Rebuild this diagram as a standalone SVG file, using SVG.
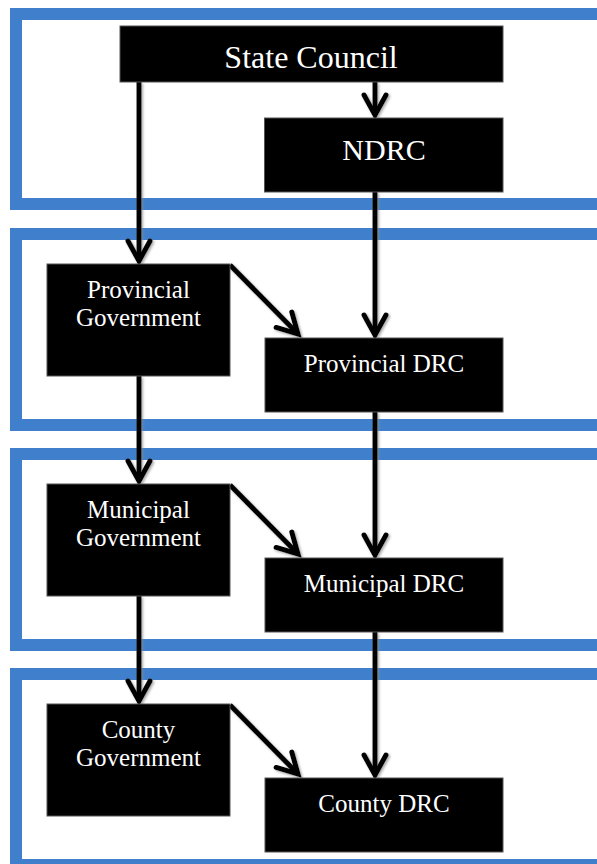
<svg xmlns="http://www.w3.org/2000/svg" width="597" height="864" viewBox="0 0 597 864">
  <style>
    .frame { fill: none; stroke: #3F7FCC; stroke-width: 12; }
    .box { fill: #000; stroke: #555; stroke-width: 1; }
    .t { fill: #fff; font-family: "Liberation Serif", "Times New Roman", serif; text-anchor: middle; }
    .big { font-size: 32px; }
    .mid { font-size: 30px; }
    .small { font-size: 25px; }
    .conn { fill: none; stroke: #000; stroke-width: 5; }
  </style>
  <defs>
    <marker id="arrow" markerUnits="userSpaceOnUse" orient="auto" refX="0" refY="0" markerWidth="40" markerHeight="40" overflow="visible">
      <path d="M -20,-11 L 0,0 L -20,11" fill="none" stroke="#000" stroke-width="5" stroke-linecap="round" stroke-linejoin="miter"/>
    </marker>
    <filter id="shadow" filterUnits="userSpaceOnUse" x="0" y="0" width="597" height="864">
      <feDropShadow dx="1.5" dy="1.5" stdDeviation="0.8" flood-color="#888" flood-opacity="0.7"/>
    </filter>
  </defs>

  <g id="frames">
    <rect class="frame" x="16" y="14" width="600" height="190"/>
    <rect class="frame" x="16" y="234" width="600" height="191"/>
    <rect class="frame" x="16" y="454" width="600" height="191"/>
    <rect class="frame" x="16" y="674" width="600" height="191"/>
  </g>

  <g id="connectors" filter="url(#shadow)">
    <line class="conn" x1="139" y1="82" x2="139" y2="261" marker-end="url(#arrow)"/>
    <line class="conn" x1="375" y1="82" x2="375" y2="115" marker-end="url(#arrow)"/>
    <line class="conn" x1="375" y1="192" x2="375" y2="335" marker-end="url(#arrow)"/>
    <line class="conn" x1="230" y1="265" x2="298" y2="334" marker-end="url(#arrow)"/>
    <line class="conn" x1="139" y1="376" x2="139" y2="481" marker-end="url(#arrow)"/>
    <line class="conn" x1="375" y1="412" x2="375" y2="555" marker-end="url(#arrow)"/>
    <line class="conn" x1="230" y1="485" x2="298" y2="554" marker-end="url(#arrow)"/>
    <line class="conn" x1="139" y1="596" x2="139" y2="701" marker-end="url(#arrow)"/>
    <line class="conn" x1="375" y1="632" x2="375" y2="775" marker-end="url(#arrow)"/>
    <line class="conn" x1="230" y1="705" x2="298" y2="774" marker-end="url(#arrow)"/>
  </g>

  <g id="state-council">
    <rect class="box" x="120" y="26" width="383" height="56"/>
    <text class="t big" x="311" y="68">State Council</text>
  </g>
  <g id="ndrc">
    <rect class="box" x="264.5" y="118" width="238.5" height="74"/>
    <text class="t mid" x="384" y="160">NDRC</text>
  </g>

  <g id="provincial-government">
    <rect class="box" x="47" y="264" width="183" height="112"/>
    <text class="t small" x="138.5" y="298">Provincial</text>
    <text class="t small" x="138.5" y="326">Government</text>
  </g>
  <g id="provincial-drc">
    <rect class="box" x="265" y="338" width="238" height="74"/>
    <text class="t small" x="384" y="372">Provincial DRC</text>
  </g>

  <g id="municipal-government">
    <rect class="box" x="47" y="484" width="183" height="112"/>
    <text class="t small" x="138.5" y="518">Municipal</text>
    <text class="t small" x="138.5" y="546">Government</text>
  </g>
  <g id="municipal-drc">
    <rect class="box" x="265" y="558" width="238" height="74"/>
    <text class="t small" x="384" y="592">Municipal DRC</text>
  </g>

  <g id="county-government">
    <rect class="box" x="47" y="704" width="183" height="112"/>
    <text class="t small" x="138.5" y="738">County</text>
    <text class="t small" x="138.5" y="766">Government</text>
  </g>
  <g id="county-drc">
    <rect class="box" x="265" y="778" width="238" height="74"/>
    <text class="t small" x="384" y="812">County DRC</text>
  </g>
</svg>
